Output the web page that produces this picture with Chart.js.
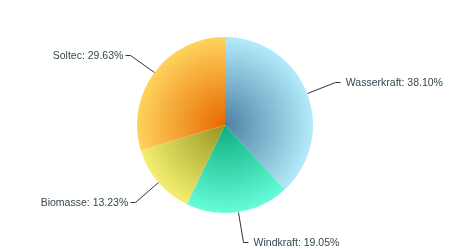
<!DOCTYPE html>
<html>
<head>
<meta charset="utf-8">
<script src="https://cdn.jsdelivr.net/npm/chart.js@4"></script>
<style>
  html, body { margin: 0; padding: 0; background: #fff; }
  #wrap { width: 450px; height: 250px; }
</style>
</head>
<body>
<div id="wrap"><canvas id="pieChart" width="450" height="250"></canvas></div>
<script>
const categories = ["Wasserkraft", "Windkraft", "Biomasse", "Soltec"];
const values = [144, 72, 50, 112];
// outer colour and darker centre colour of each slice
const edgeColors = ["#b3ebfb", "#66fcd9", "#f3ef72", "#fed35d"];
const centerColors = ["#4d82a3", "#0cae7e", "#979520", "#e86800"];

const total = values.reduce((a, b) => a + b, 0);

function sliceGradient(ctx) {
    const area = ctx.chart.chartArea;
    if (!area) return edgeColors[ctx.dataIndex];
    const cx = (area.left + area.right) / 2;
    const cy = (area.top + area.bottom) / 2;
    const r = Math.min(area.right - area.left, area.bottom - area.top) / 2;
    const g = ctx.chart.ctx.createRadialGradient(cx, cy, 0, cx, cy, r);
    g.addColorStop(0, centerColors[ctx.dataIndex]);
    g.addColorStop(1, edgeColors[ctx.dataIndex]);
    return g;
}

const pieLabels = {
    id: "pieLabels",
    afterDraw(chart) {
        const ctx = chart.ctx;
        const meta = chart.getDatasetMeta(0);
        ctx.save();
        ctx.font = "10.5px 'Liberation Sans', Arial, sans-serif";
        ctx.textBaseline = "middle";
        ctx.strokeStyle = "#333";
        ctx.fillStyle = "#34474f";
        ctx.lineWidth = 1;
        meta.data.forEach((arc, i) => {
            const cx = arc.x, cy = arc.y, r = arc.outerRadius;
            const mid = (arc.startAngle + arc.endAngle) / 2;
            const dist = r + 30;
            let lx = cx + Math.cos(mid) * dist;
            let ly = cy + Math.sin(mid) * dist;
            // keep labels inside a vertical band around the centre
            if (ly < cy - 71) {
                ly = cy - 71;
                lx = cx + Math.sign(Math.cos(mid)) * Math.sqrt(dist * dist - 71 * 71);
            }
            const ang = Math.atan2(ly - cy, lx - cx);
            const ex = cx + Math.cos(ang) * r;
            const ey = cy + Math.sin(ang) * r;
            const right = lx >= cx;
            const hx = right ? lx + 5 : lx - 5;
            ctx.beginPath();
            ctx.moveTo(Math.round(ex) + 0.5, Math.round(ey) + 0.5);
            ctx.lineTo(Math.round(lx) + 0.5, Math.round(ly) + 0.5);
            ctx.lineTo(Math.round(hx) + 0.5, Math.round(ly) + 0.5);
            ctx.stroke();
            const pct = (values[i] / total * 100).toFixed(2);
            const text = categories[i] + ": " + pct + "%";
            ctx.textAlign = right ? "left" : "right";
            ctx.fillText(text, right ? hx + 6 : hx - 2, Math.round(ly) + 1);
        });
        ctx.restore();
    }
};

new Chart(document.getElementById("pieChart"), {
    type: "pie",
    data: {
        labels: categories,
        datasets: [{
            data: values,
            backgroundColor: sliceGradient,
            borderWidth: 0
        }]
    },
    options: {
        responsive: false,
        animation: false,
        layout: { padding: { top: 37, bottom: 37, left: 20, right: 20 } },
        plugins: {
            legend: { display: false },
            tooltip: { enabled: false }
        }
    },
    plugins: [pieLabels]
});
</script>
</body>
</html>
